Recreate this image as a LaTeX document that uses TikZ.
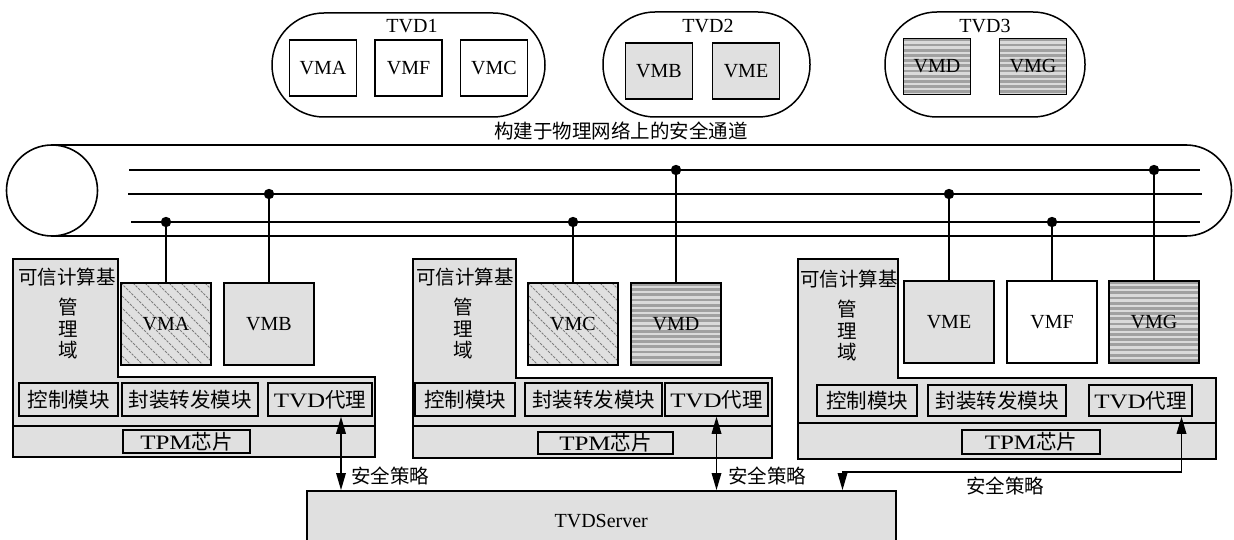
\documentclass[tikz,border=0pt]{standalone}
\usepackage{fontspec}
\setmainfont{Liberation Serif}
\newfontfamily\cjk{Noto Sans CJK SC}
\newfontfamily\widelat[FakeStretch=1.22]{Liberation Serif}
\usetikzlibrary{calc}
\definecolor{boxgray}{RGB}{224,224,224}
\definecolor{stripedark}{RGB}{160,160,160}
\definecolor{stripelight}{RGB}{218,218,218}
\definecolor{hatchcol}{RGB}{125,125,125}
\tikzset{
  lat/.style={font=\fontsize{20}{24}\selectfont, inner sep=0pt},
  cjkf/.style={font=\cjk\fontsize{19.5}{23}\selectfont, inner sep=0pt},
  box/.style={draw, line width=1.5pt, inner sep=0pt, font=\fontsize{20}{24}\selectfont},
  vmwhite/.style={box, fill=white},
  vmgray/.style={box, fill=boxgray},
  vmhatch/.style={box, fill=boxgray, path picture={\foreach \k in {-14,...,14}{\draw[hatchcol, line width=0.9pt, dash pattern=on 2.5pt off 1.2pt] ([xshift=\k*12pt]path picture bounding box.north west) -- ++(130,130);}}},
  vmstripe/.style={box, fill=stripelight, path picture={\foreach \k in {0,...,20}{\fill[stripedark] ([yshift=-\k*5.2pt]path picture bounding box.north west) rectangle ++(140,2.7);}}},
  tvdvm/.style={minimum width=67pt, minimum height=56pt},
  hostvm/.style={minimum width=90pt, minimum height=82pt},
  modbox/.style={box, fill=boxgray, font=\fontsize{20.5}{24}\selectfont},
  stad/.style={draw, line width=1.5pt, rounded corners=52pt, inner sep=0pt},
  host/.style={draw, line width=1.5pt, fill=boxgray},
  chan/.style={line width=1.6pt},
  pol/.style={line width=1.5pt},
  tip/.style={fill=black},
}
\begin{document}
\begin{tikzpicture}[x=1pt,y=-1pt]
\useasboundingbox (0,0) rectangle (1234,540);

% ---------- TVD groups ----------
\node[stad, minimum width=273pt, minimum height=104pt] (tvd1) at (408.5,65) {};
\node[lat] (tvd1l) at (412,26) {TVD1};
\node[vmwhite, tvdvm] (t1a) at (323,68) {VMA};
\node[vmwhite, tvdvm] (t1f) at (408.5,68) {VMF};
\node[vmwhite, tvdvm] (t1c) at (494,68) {VMC};

\node[stad, minimum width=207pt, minimum height=105pt] (tvd2) at (706.5,64.5) {};
\node[lat] (tvd2l) at (708,26) {TVD2};
\node[vmgray, tvdvm] (t2b) at (659,71) {VMB};
\node[vmgray, tvdvm] (t2e) at (746,71) {VME};

\node[stad, minimum width=200pt, minimum height=105pt] (tvd3) at (985,64.5) {};
\node[lat] (tvd3l) at (985,26) {TVD3};
\node[vmstripe, tvdvm] (t3d) at (937,66.5) {VMD};
\node[vmstripe, tvdvm] (t3g) at (1033,66.5) {VMG};

% ---------- secure channel ----------
\node[cjkf] (chlabel) at (621,131) {构建于物理网络上的安全通道};
\draw[chan] (52,145) -- (1186,145) arc[start angle=-90, end angle=90, radius=45.5] -- (52,236);
\draw[chan] (52,190.5) circle[radius=45.5];
\coordinate (l1s) at (129,170); \coordinate (l1e) at (1200,170);
\coordinate (l2s) at (128,194); \coordinate (l2e) at (1202,194);
\coordinate (l3s) at (131,222); \coordinate (l3e) at (1200,222);
\draw[chan] (l1s) -- (l1e);
\draw[chan] (l2s) -- (l2e);
\draw[chan] (l3s) -- (l3e);

% ---------- host 1 ----------
\draw[host] (13,259) -- (118,259) -- (118,377) -- (375,377) -- (375,457) -- (13,457) -- cycle;
\draw[line width=1.5pt] (13,426) -- (375,426);
\node[cjkf, anchor=west] (tcb1) at (18,277) {可信计算基};
\node[cjkf, align=center, font=\cjk\fontsize{19.5}{21.5}\selectfont] (mgmt1) at (68,329) {管\\理\\域};
\node[vmhatch, hostvm] (vma) at (166,324) {VMA};
\node[vmgray, hostvm] (vmb) at (269,324) {VMB};
\node[modbox, minimum width=99pt, minimum height=33pt] (ctrl1) at (68.5,399.5) {\cjk 控制模块};
\node[modbox, minimum width=136pt, minimum height=33pt] (pack1) at (190,399.5) {\cjk 封装转发模块};
\node[modbox, minimum width=104pt, minimum height=33pt] (agent1) at (320,399.5) {{\widelat TVD}{\cjk 代理}};
\node[modbox, minimum width=127pt, minimum height=23pt] (tpm1) at (186.5,441.5) {{\widelat TPM}{\cjk 芯片}};

% ---------- host 2 ----------
\draw[host] (413,259) -- (516,259) -- (516,378) -- (772,378) -- (772,458) -- (413,458) -- cycle;
\draw[line width=1.5pt] (413,426) -- (772,426);
\node[cjkf, anchor=west] (tcb2) at (416,277) {可信计算基};
\node[cjkf, align=center, font=\cjk\fontsize{19.5}{21.5}\selectfont] (mgmt2) at (463,329) {管\\理\\域};
\node[vmhatch, hostvm] (vmc) at (573,324) {VMC};
\node[vmstripe, hostvm] (vmd) at (676,324) {VMD};
\node[modbox, minimum width=100pt, minimum height=33pt] (ctrl2) at (465,399.5) {\cjk 控制模块};
\node[modbox, minimum width=137pt, minimum height=33pt] (pack2) at (593.5,399.5) {\cjk 封装转发模块};
\node[modbox, minimum width=103pt, minimum height=33pt] (agent2) at (716.5,399.5) {{\widelat TVD}{\cjk 代理}};
\node[modbox, minimum width=135pt, minimum height=22pt] (tpm2) at (605.5,443) {{\widelat TPM}{\cjk 芯片}};

% ---------- host 3 ----------
\draw[host] (798,259) -- (898,259) -- (898,378) -- (1216,378) -- (1216,459) -- (798,459) -- cycle;
\draw[line width=1.5pt] (798,423) -- (1216,423);
\node[cjkf, anchor=west] (tcb3) at (800,279) {可信计算基};
\node[cjkf, align=center, font=\cjk\fontsize{19.5}{21.5}\selectfont] (mgmt3) at (847,331) {管\\理\\域};
\node[vmgray, hostvm] (vme) at (949,322) {VME};
\node[vmwhite, hostvm] (vmf) at (1052,322) {VMF};
\node[vmstripe, hostvm] (vmg) at (1154,322) {VMG};
\node[modbox, minimum width=100pt, minimum height=31pt] (ctrl3) at (867,400.5) {\cjk 控制模块};
\node[modbox, minimum width=138pt, minimum height=31pt] (pack3) at (997,400.5) {\cjk 封装转发模块};
\node[modbox, minimum width=103pt, minimum height=31pt] (agent3) at (1140.5,400.5) {{\widelat TVD}{\cjk 代理}};
\node[modbox, minimum width=138pt, minimum height=24pt] (tpm3) at (1031,442) {{\widelat TPM}{\cjk 芯片}};

% ---------- VM connectors to channel ----------
\foreach \v/\l in {vma/l3s, vmb/l2s, vmc/l3s, vmd/l1s, vme/l2s, vmf/l3s, vmg/l1s}{
  \draw[chan] (\v.north) -- (\v.north |- \l);
  \fill (\v.north |- \l) circle[radius=5.2];
}

% ---------- TVD server ----------
\node[box, fill=boxgray, minimum width=589pt, minimum height=60pt, anchor=north west] (server) at (306,490) {TVDServer};

% ---------- security policy arrows ----------
\coordinate (p1) at ([xshift=21pt]agent1.south);
\coordinate (q1) at (p1 |- server.north);
\draw[pol] ($(p1)+(0,10)$) -- ($(q1)+(0,-10)$);
\fill[tip] (p1) -- ++(-5,17) -- ++(10,0) -- cycle;
\fill[tip] (q1) -- ++(-5,-17) -- ++(10,0) -- cycle;
\node[cjkf, anchor=west] (sp1) at (351,476) {安全策略};

\coordinate (p2) at (agent2.south);
\coordinate (q2) at (p2 |- server.north);
\draw[pol] ($(p2)+(0,10)$) -- ($(q2)+(0,-10)$);
\fill[tip] (p2) -- ++(-5,17) -- ++(10,0) -- cycle;
\fill[tip] (q2) -- ++(-5,-17) -- ++(10,0) -- cycle;
\node[cjkf, anchor=west] (sp2) at (728,476) {安全策略};

\coordinate (p3) at ([xshift=41pt]agent3.south);
\coordinate (rt) at (0,472);
\coordinate (r3) at ([xshift=-54pt]server.north east);
\draw[pol] ($(p3)+(0,10)$) -- (p3 |- rt) -| ($(r3)+(0,-10)$);
\fill[tip] (p3) -- ++(-5,17) -- ++(10,0) -- cycle;
\fill[tip] (r3) -- ++(-5,-17) -- ++(10,0) -- cycle;
\node[cjkf, anchor=west] (sp3) at (966,486) {安全策略};
\end{tikzpicture}
\end{document}
